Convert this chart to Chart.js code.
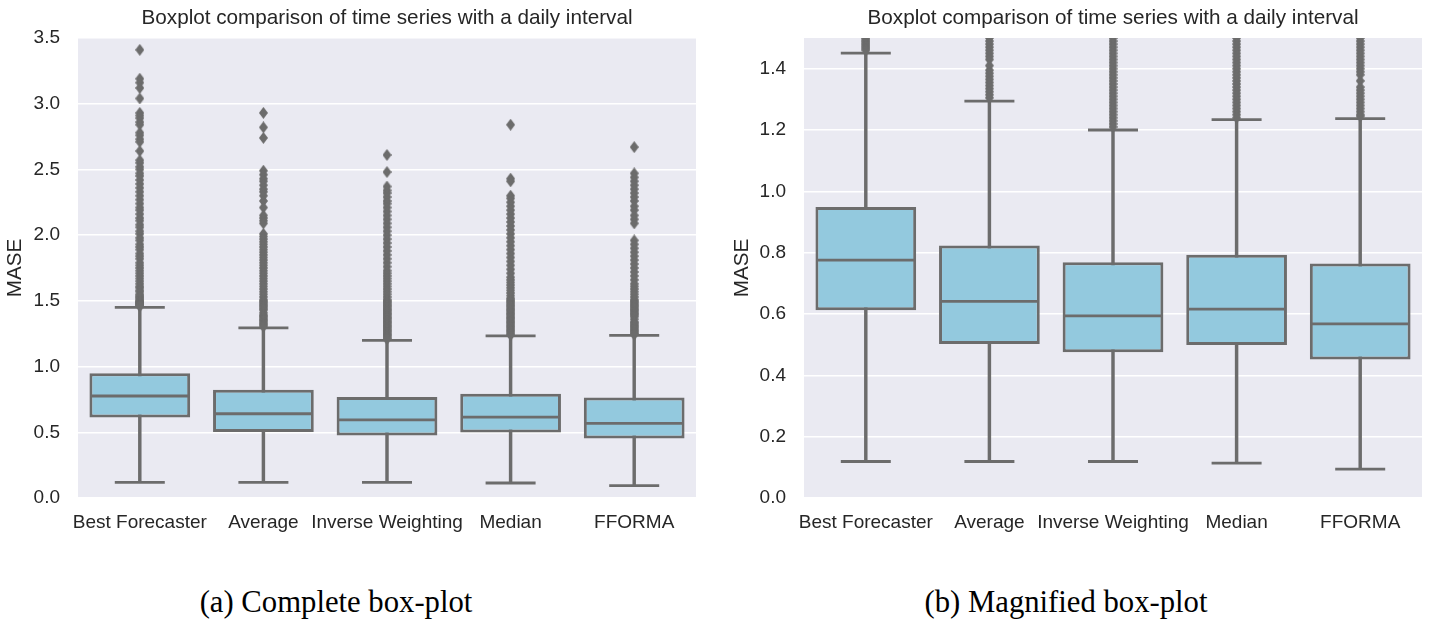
<!DOCTYPE html>
<html>
<head>
<meta charset="utf-8">
<script src="https://cdn.jsdelivr.net/npm/chart.js@4/dist/chart.umd.min.js"></script>
<style>
  html, body { margin: 0; padding: 0; background: #ffffff; }
  body { width: 1432px; height: 619px; position: relative; overflow: hidden; }
  canvas { position: absolute; top: 0; }
  #full { left: 0; }
  #zoomed { left: 716px; }
  .caption {
    position: absolute; top: 584px; width: 500px; text-align: center;
    font-family: "Liberation Serif", "DejaVu Serif", serif; font-size: 30.7px; color: #000;
    line-height: 36px;
  }
</style>
</head>
<body>
<canvas id="full" width="716" height="545"></canvas>
<canvas id="zoomed" width="716" height="545"></canvas>
<div class="caption" style="left:86px">(a) Complete box-plot</div>
<div class="caption" style="left:816px">(b) Magnified box-plot</div>
<script>
// Forecast combination methods compared on daily series
const categories = ['Best Forecaster', 'Average', 'Inverse Weighting', 'Median', 'FFORMA'];

// Five-number summaries of MASE per method
const whiskerLow  = [0.119, 0.119, 0.119, 0.114, 0.094];
const quartile1   = [0.612, 0.502, 0.475, 0.499, 0.452];
const medians     = [0.776, 0.641, 0.594, 0.616, 0.568];
const quartile3   = [0.949, 0.823, 0.769, 0.793, 0.765];
const whiskerHigh = [1.451, 1.294, 1.200, 1.234, 1.237];

// Values beyond the upper whisker
const outliersBest = [3.41, 3.19, 3.16, 3.12, 3.04, 2.93, 2.91, 2.89, 2.86, 2.84, 2.78, 2.76, 2.73, 2.71, 2.64,
  2.57, 2.55, 2.52, 2.50, 2.47, 2.45, 2.42, 2.39, 2.36, 2.33, 2.30, 2.27, 2.24, 2.21, 2.19, 2.16, 2.13, 2.11,
  2.08, 2.06, 2.03, 2.01, 1.98, 1.96, 1.93, 1.91, 1.89, 1.86, 1.84, 1.82, 1.79, 1.77, 1.75, 1.73, 1.71, 1.69,
  1.67, 1.65, 1.63, 1.61, 1.60, 1.58, 1.57, 1.55, 1.54, 1.53, 1.52, 1.51, 1.50, 1.495, 1.49, 1.485, 1.48,
  1.475, 1.47, 1.465, 1.46];
const outliersAverage = [2.93, 2.82, 2.74, 2.49, 2.46, 2.43, 2.41, 2.38, 2.35, 2.33, 2.30, 2.26, 2.21, 2.15,
  2.13, 2.11, 2.09, 2.01, 1.99, 1.97, 1.95, 1.93, 1.91, 1.89, 1.87, 1.85, 1.83, 1.81, 1.79, 1.77, 1.75, 1.73,
  1.71, 1.69, 1.67, 1.65, 1.63, 1.61, 1.59, 1.57, 1.55, 1.53, 1.51, 1.50, 1.49, 1.48, 1.47, 1.46, 1.45, 1.44,
  1.43, 1.41, 1.395, 1.385, 1.375, 1.365, 1.355, 1.345, 1.335, 1.325, 1.315, 1.305];
const outliersInverse = [2.61, 2.48, 2.37, 2.34, 2.32, 2.29, 2.26, 2.24, 2.21, 2.18, 2.15, 2.12, 2.09, 2.06,
  2.03, 2.00, 1.97, 1.94, 1.91, 1.88, 1.85, 1.82, 1.79, 1.76, 1.73, 1.71, 1.69, 1.67, 1.65, 1.63, 1.61, 1.59,
  1.57, 1.55, 1.53, 1.51, 1.50, 1.49, 1.48, 1.47, 1.46, 1.45, 1.44, 1.43, 1.42, 1.41, 1.40, 1.39, 1.38, 1.37,
  1.36, 1.35, 1.34, 1.33, 1.32, 1.31, 1.30, 1.29, 1.28, 1.27, 1.26, 1.25, 1.24, 1.23, 1.22, 1.21];
const outliersMedian = [2.84, 2.43, 2.41, 2.30, 2.28, 2.25, 2.22, 2.19, 2.16, 2.13, 2.10, 2.07, 2.04, 2.01,
  1.98, 1.95, 1.92, 1.89, 1.86, 1.83, 1.80, 1.77, 1.74, 1.71, 1.68, 1.66, 1.64, 1.62, 1.60, 1.58, 1.56, 1.54,
  1.52, 1.51, 1.50, 1.49, 1.48, 1.47, 1.46, 1.45, 1.44, 1.43, 1.42, 1.41, 1.40, 1.39, 1.38, 1.37, 1.36, 1.35,
  1.34, 1.33, 1.32, 1.31, 1.30, 1.29, 1.28, 1.27, 1.26, 1.25, 1.24];
const outliersFforma = [2.67, 2.47, 2.44, 2.41, 2.38, 2.35, 2.32, 2.29, 2.26, 2.22, 2.19, 2.15, 2.12, 2.09,
  1.96, 1.93, 1.90, 1.87, 1.84, 1.81, 1.78, 1.75, 1.72, 1.69, 1.66, 1.63, 1.61, 1.59, 1.57, 1.55, 1.53, 1.51,
  1.50, 1.49, 1.48, 1.47, 1.46, 1.45, 1.44, 1.43, 1.42, 1.41, 1.40, 1.39, 1.38, 1.36, 1.34, 1.33, 1.32, 1.31,
  1.30, 1.29, 1.28, 1.27, 1.26, 1.25, 1.245];

// Tick labels on the MASE axis of each panel
const ticksComplete  = [0.0, 0.5, 1.0, 1.5, 2.0, 2.5, 3.0, 3.5];
const ticksMagnified = [0.0, 0.2, 0.4, 0.6, 0.8, 1.0, 1.2, 1.4];

const titleText = 'Boxplot comparison of time series with a daily interval';

const GRAY = '#6c6c6c';
const BOX_FILL = '#93c9de';
const PANEL_BG = '#eaeaf2';
const TEXT = '#262626';
const SANS = '"Liberation Sans", Arial, sans-serif';
const LINE_W = 2.8;

// thin diamond flier marker
function diamondMarker(w, h, color) {
  const c = document.createElement('canvas');
  c.width = w; c.height = h;
  const g = c.getContext('2d');
  g.fillStyle = color;
  g.beginPath();
  g.moveTo(w / 2, 0);
  g.lineTo(w, h / 2);
  g.lineTo(w / 2, h);
  g.lineTo(0, h / 2);
  g.closePath();
  g.fill();
  return c;
}
const flierMarker = diamondMarker(9, 12, GRAY);

const outlierPoints = [];
[outliersBest, outliersAverage, outliersInverse, outliersMedian, outliersFforma].forEach((list, i) => {
  list.forEach(v => outlierPoints.push({ x: categories[i], y: v }));
});

// grey plotting surface behind the grid
const panelBackground = {
  id: 'panelBackground',
  beforeDraw(chart) {
    const { ctx, chartArea: a } = chart;
    ctx.save();
    ctx.fillStyle = PANEL_BG;
    ctx.fillRect(a.left, a.top, a.right - a.left, a.bottom - a.top);
    ctx.restore();
  }
};

// keep the plotting area fixed: no extra room reserved for overhanging labels
function noOverhang(scale) {
  scale.paddingLeft = 0;
  scale.paddingRight = 0;
  scale.paddingTop = 0;
  scale.paddingBottom = 0;
}

function buildChart(canvasId, yMax, tickValues, axisWidth, titlePad, rightPad) {
  const datasets = [
    { // whisker stems
      type: 'bar', order: 5, grouped: false,
      data: categories.map((_, i) => [whiskerLow[i], whiskerHigh[i]]),
      backgroundColor: GRAY, borderWidth: 0, barThickness: LINE_W
    },
    { // outliers
      type: 'line', order: 4, showLine: false, clip: 0,
      data: outlierPoints,
      pointStyle: flierMarker, pointRadius: 5, pointHoverRadius: 5,
      borderColor: GRAY, backgroundColor: GRAY
    },
    { // interquartile boxes
      type: 'bar', order: 3, grouped: false,
      data: categories.map((_, i) => [quartile1[i], quartile3[i]]),
      backgroundColor: BOX_FILL, borderColor: GRAY, borderWidth: 3, borderSkipped: false,
      categoryPercentage: 0.815, barPercentage: 1.0
    },
    { // medians
      type: 'line', order: 2, showLine: false,
      data: medians,
      pointStyle: 'line', pointRadius: 48.5, pointHoverRadius: 48.5,
      pointBorderWidth: LINE_W, pointBorderColor: GRAY, borderColor: GRAY
    },
    { // lower caps
      type: 'line', order: 1, showLine: false,
      data: whiskerLow,
      pointStyle: 'line', pointRadius: 25, pointHoverRadius: 25,
      pointBorderWidth: LINE_W, pointBorderColor: GRAY, borderColor: GRAY
    },
    { // upper caps
      type: 'line', order: 1, showLine: false,
      data: whiskerHigh,
      pointStyle: 'line', pointRadius: 25, pointHoverRadius: 25,
      pointBorderWidth: LINE_W, pointBorderColor: GRAY, borderColor: GRAY
    }
  ];

  return new Chart(document.getElementById(canvasId), {
    type: 'bar',
    data: { labels: categories, datasets },
    plugins: [panelBackground],
    options: {
      responsive: false,
      animation: false,
      events: [],
      layout: { autoPadding: false, padding: { left: 0, right: rightPad, top: 0, bottom: 0 } },
      plugins: {
        legend: { display: false },
        tooltip: { enabled: false },
        title: {
          display: true, text: titleText, fullSize: false, color: TEXT,
          font: { family: SANS, size: 20.7, weight: 'normal', lineHeight: '21px' },
          padding: { top: 8, bottom: 9 }
        }
      },
      scales: {
        x: {
          type: 'category', offset: true,
          grid: { display: false, drawTicks: false },
          border: { display: false },
          ticks: { color: TEXT, font: { family: SANS, size: 19 }, padding: 13, maxRotation: 0, autoSkip: false },
          afterFit(scale) { scale.height = 47; noOverhang(scale); }
        },
        y: {
          min: 0, max: yMax,
          grid: { color: '#ffffff', lineWidth: 1.5, drawTicks: false },
          border: { display: false },
          ticks: {
            color: TEXT, font: { family: SANS, size: 19 }, padding: 18,
            callback: v => Number(v).toFixed(1)
          },
          afterBuildTicks(scale) { scale.ticks = tickValues.map(v => ({ value: v })); },
          title: {
            display: true, text: 'MASE', color: TEXT,
            font: { family: SANS, size: 20.7, lineHeight: '22px' }, padding: { top: titlePad, bottom: 0 }
          },
          afterFit(scale) { scale.width = axisWidth; noOverhang(scale); }
        }
      }
    }
  });
}

buildChart('full', 3.5, ticksComplete, 78, 4.5, 20);
buildChart('zoomed', 1.5, ticksMagnified, 88, 15.5, 10);
</script>
</body>
</html>
